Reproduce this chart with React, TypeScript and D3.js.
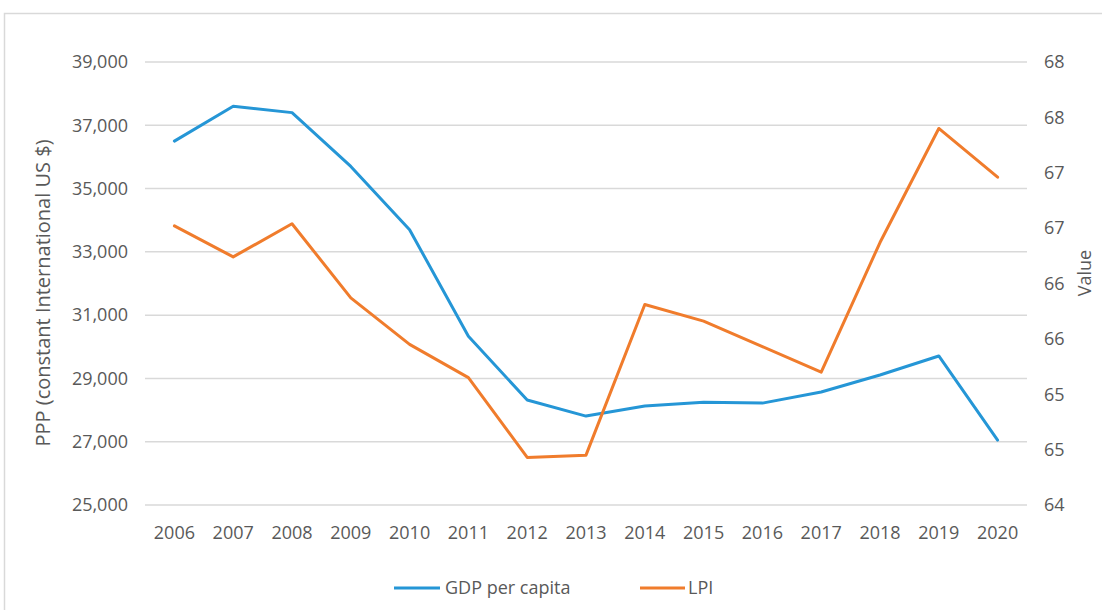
import React from "react";
import * as d3 from "d3";

const years = ["2006","2007","2008","2009","2010","2011","2012","2013","2014","2015","2016","2017","2018","2019","2020"];
const gdpPerCapita = [36500, 37600, 37400, 35700, 33700, 30330, 28320, 27810, 28130, 28250, 28220, 28570, 29110, 29710, 27050];
const lpi = [66.52, 66.24, 66.54, 65.87, 65.45, 65.15, 64.43, 64.45, 65.81, 65.66, 65.43, 65.2, 66.37, 67.4, 66.96];
const leftTicks = [25000, 27000, 29000, 31000, 33000, 35000, 37000, 39000];
const rightTicks = [64, 64.5, 65, 65.5, 66, 66.5, 67, 67.5, 68];
const seriesNames = ["GDP per capita", "LPI"];

const W = 1102, H = 610;
const plot = { left: 145, right: 1027, top: 62, bottom: 505 };
const BLUE = "#2596d6";
const ORANGE = "#f07c2c";
const TEXT = "#595959";
const FONT = "'Open Sans', sans-serif";

export default function App() {
  const x = d3.scalePoint<string>().domain(years).range([plot.left, plot.right]).padding(0.5);
  const yL = d3.scaleLinear().domain([25000, 39000]).range([plot.bottom, plot.top]);
  const yR = d3.scaleLinear().domain([64, 68]).range([plot.bottom, plot.top]);
  const fmtL = d3.format(",");
  const fmtR = (v: number) => String(Math.floor(v + 0.5));

  const lineG = d3.line<number>().x((_, i) => x(years[i])!).y((d) => yL(d));
  const lineL = d3.line<number>().x((_, i) => x(years[i])!).y((d) => yR(d));

  return (
    <svg width={W} height={H} style={{ position: "absolute", left: 0, top: 0, background: "#fff" }} fontFamily={FONT}>
      <rect x={4.5} y={13.5} width={W + 10} height={H + 10} fill="none" stroke="#d9d9d9" strokeWidth={1.5} />
      {leftTicks.map((t) => (
        <line key={t} x1={plot.left} x2={plot.right} y1={yL(t)} y2={yL(t)} stroke="#d9d9d9" strokeWidth={1.5} />
      ))}
      {leftTicks.map((t) => (
        <text key={"l" + t} x={128} y={yL(t)} dy="0.35em" textAnchor="end" fontSize={18} fill={TEXT}>
          {fmtL(t)}
        </text>
      ))}
      {rightTicks.map((t) => (
        <text key={"r" + t} x={1044} y={yR(t)} dy="0.35em" textAnchor="start" fontSize={18} fill={TEXT}>
          {fmtR(t)}
        </text>
      ))}
      {years.map((yv) => (
        <text key={yv} x={x(yv)} y={533} dy="0.35em" textAnchor="middle" fontSize={18} fill={TEXT}>
          {yv}
        </text>
      ))}
      <text transform={`translate(43,293) rotate(-90)`} dy="0.35em" textAnchor="middle" fontSize={20} fill={TEXT}>
        PPP (constant International US $)
      </text>
      <text transform={`translate(1085,273) rotate(-90)`} dy="0.35em" textAnchor="middle" fontSize={18} fill={TEXT}>
        Value
      </text>
      <path d={lineG(gdpPerCapita)!} fill="none" stroke={BLUE} strokeWidth={3} strokeLinejoin="round" strokeLinecap="round" />
      <path d={lineL(lpi)!} fill="none" stroke={ORANGE} strokeWidth={3} strokeLinejoin="round" strokeLinecap="round" />
      <g>
        <line x1={394} x2={440} y1={588} y2={588} stroke={BLUE} strokeWidth={3} />
        <text x={445} y={588} dy="0.35em" fontSize={18} fill={TEXT}>{seriesNames[0]}</text>
        <line x1={640} x2={685} y1={588} y2={588} stroke={ORANGE} strokeWidth={3} />
        <text x={688} y={588} dy="0.35em" fontSize={18} fill={TEXT}>{seriesNames[1]}</text>
      </g>
    </svg>
  );
}
